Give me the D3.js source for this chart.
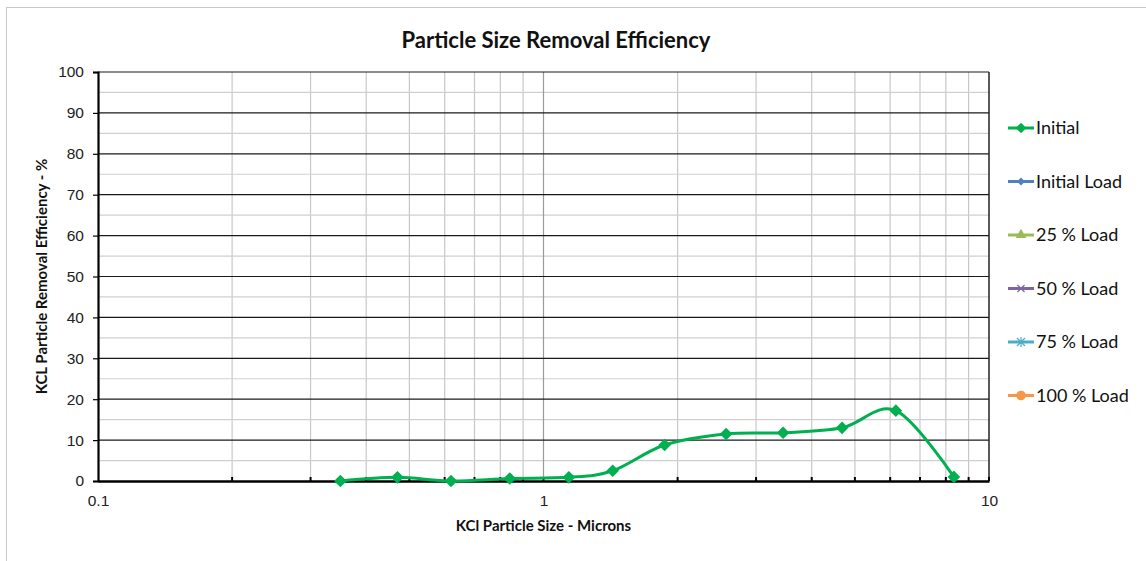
<!DOCTYPE html>
<html><head><meta charset="utf-8">
<script src="https://cdn.jsdelivr.net/npm/d3@7"></script>
<style>body{margin:0;background:#fff}svg{display:block;font-family:Lato,"Open Sans",sans-serif}</style>
</head><body><svg id="c" width="1146" height="561"></svg>
<script>
const sizes = [0.35, 0.47, 0.62, 0.84, 1.14, 1.43, 1.87, 2.57, 3.45, 4.68, 6.18, 8.34];
const initialEff = [0, 0.9, 0, 0.6, 0.9, 2.5, 8.8, 11.5, 11.8, 13.0, 17.2, 1.0];
const seriesNames = ["Initial", "Initial Load", "25 % Load", "50 % Load", "75 % Load", "100 % Load"];
const seriesColors = ["#00B050", "#4F81BD", "#9BBB59", "#8064A2", "#4BACC6", "#F79646"];
const yTicks = [0,10,20,30,40,50,60,70,80,90,100];
const xTickLabels = [0.1, 1, 10];

const svg = d3.select("#c");
const L=98, R=989, T=72, B=481;
const x = d3.scaleLog().domain([0.1,10]).range([L,R]);
const y = d3.scaleLinear().domain([0,100]).range([B,T]);

svg.append("rect").attr("x",6.5).attr("y",7.5).attr("width",1150).attr("height",570)
  .attr("fill","#fff").attr("stroke","#c8c8c8");

// minor vertical grid
const minorX = [];
[0.1,1].forEach(d=>{for(let k=2;k<=9;k++) minorX.push(d*k);});
svg.append("g").selectAll("line").data(minorX).join("line")
  .attr("x1",d=>x(d)).attr("x2",d=>x(d)).attr("y1",T).attr("y2",B)
  .attr("stroke","#c8c8c8").attr("stroke-width",1.2);
// minor horizontal grid
const minorY = d3.range(5,100,10);
svg.append("g").selectAll("line").data(minorY).join("line")
  .attr("x1",L).attr("x2",R).attr("y1",d=>y(d)).attr("y2",d=>y(d))
  .attr("stroke","#d0d0d0").attr("stroke-width",1.2);
// major vertical grid at 1
svg.append("line").attr("x1",x(1)).attr("x2",x(1)).attr("y1",T).attr("y2",B)
  .attr("stroke","#9a9a9a").attr("stroke-width",1.2);
// major horizontal grid
svg.append("g").selectAll("line").data(yTicks.slice(1)).join("line")
  .attr("x1",L).attr("x2",R).attr("y1",d=>y(d)).attr("y2",d=>y(d))
  .attr("stroke","#1a1a1a").attr("stroke-width",1.2);

// right border
svg.append("line").attr("x1",R).attr("x2",R).attr("y1",T).attr("y2",B).attr("stroke","#222").attr("stroke-width",1.5);

// y axis
const ya = d3.axisLeft(y).tickValues(yTicks).tickSize(5).tickPadding(9);
const gy = svg.append("g").attr("transform",`translate(${L},0)`).call(ya);
gy.select(".domain").attr("stroke","#000").attr("stroke-width",2.2);
gy.selectAll(".tick line").attr("stroke","#000").attr("stroke-width",1.2);
gy.selectAll("text").attr("font-size",15.5).attr("fill","#222");

// x axis
const xa = d3.axisBottom(x).tickValues(xTickLabels).tickFormat(d3.format("")).tickSize(0).tickPadding(14);
const gx = svg.append("g").attr("transform",`translate(0,${B})`).call(xa);
gx.select(".domain").attr("stroke","#000").attr("stroke-width",2.5);
gx.selectAll("text").attr("font-size",15.5).attr("fill","#222");
// minor inner ticks
svg.append("g").selectAll("line").data(minorX.concat([1,10])).join("line")
  .attr("x1",d=>x(d)).attr("x2",d=>x(d)).attr("y1",B).attr("y2",B-4)
  .attr("stroke","#000").attr("stroke-width",2);

// title & labels
svg.append("text").attr("x",556).attr("y",48).attr("text-anchor","middle")
  .attr("font-size",22).attr("font-weight","bold").attr("fill","#111").text("Particle Size Removal Efficiency");
svg.append("text").attr("x",(L+R)/2).attr("y",531).attr("text-anchor","middle")
  .attr("font-size",15).attr("font-weight","bold").attr("fill","#111").text("KCl Particle Size - Microns");
svg.append("text").attr("transform",`translate(47,${(T+B)/2}) rotate(-90)`).attr("text-anchor","middle")
  .attr("font-size",15).attr("font-weight","bold").attr("fill","#111").text("KCL Particle Removal Efficiency - %");

// data line
const pts = sizes.map((s,i)=>[s,initialEff[i]]);
const line = d3.line().x(d=>x(d[0])).y(d=>y(d[1])).curve(d3.curveCardinal.tension(0));
svg.append("path").attr("d",line(pts)).attr("fill","none").attr("stroke",seriesColors[0]).attr("stroke-width",3);
svg.append("g").selectAll("path").data(pts).join("path")
  .attr("transform",d=>`translate(${x(d[0])},${y(d[1])}) rotate(45)`)
  .attr("d",d3.symbol().type(d3.symbolSquare).size(80)).attr("fill",seriesColors[0]);

// legend
const lg = svg.append("g");
seriesNames.forEach((n,i)=>{
  const yy = 128 + i*53.5;
  const c = seriesColors[i];
  lg.append("line").attr("x1",1008).attr("x2",1034).attr("y1",yy).attr("y2",yy).attr("stroke",c).attr("stroke-width",3);
  const cx=1021;
  if(i===0) lg.append("path").attr("transform",`translate(${cx},${yy}) rotate(45)`).attr("d",d3.symbol().type(d3.symbolSquare).size(55)).attr("fill",c);
  if(i===1) lg.append("path").attr("transform",`translate(${cx},${yy}) rotate(45)`).attr("d",d3.symbol().type(d3.symbolSquare).size(32)).attr("fill",c);
  if(i===2) lg.append("path").attr("transform",`translate(${cx},${yy})`).attr("d",d3.symbol().type(d3.symbolTriangle).size(50)).attr("fill",c);
  if(i===3) lg.append("path").attr("transform",`translate(${cx},${yy}) rotate(45)`).attr("fill","none").attr("stroke",c).attr("stroke-width",1.2)
     .attr("d","M-5,0H5M0,-5V5");
  if(i===4) lg.append("path").attr("transform",`translate(${cx},${yy})`).attr("d","M-4,-4L4,4M-4,4L4,-4M0,-5V5").attr("fill","none").attr("stroke",c).attr("stroke-width",1.2);
  if(i===5) lg.append("circle").attr("cx",cx).attr("cy",yy).attr("r",4.8).attr("fill",c);
  lg.append("text").attr("x",1036).attr("y",yy+6).attr("font-size",18).attr("fill","#111").text(n);
});
</script></body></html>
